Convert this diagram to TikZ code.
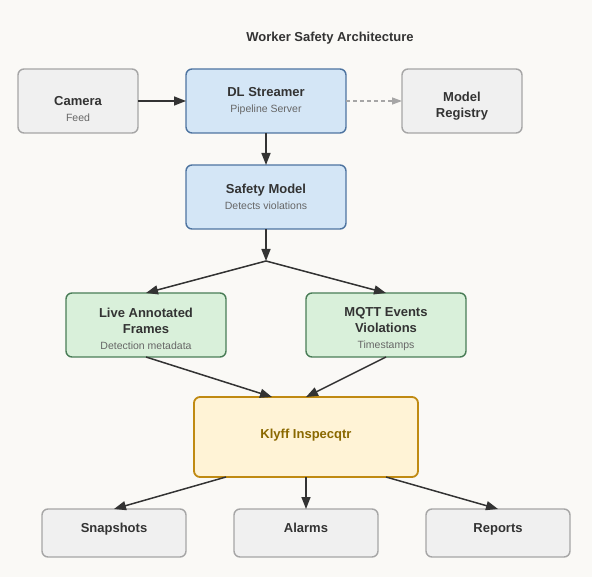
\documentclass[tikz,border=0pt]{standalone}
\usepackage{fontspec}
\setmainfont{Liberation Sans}
\usepackage{xcolor}
\usepackage{tikz}
\usetikzlibrary{positioning, arrows.meta}

\definecolor{bgcol}{HTML}{FAF9F6}
\definecolor{txtdark}{HTML}{333333}
\definecolor{subgray}{HTML}{666666}
\definecolor{wirecol}{HTML}{333333}
\definecolor{grayfill}{HTML}{F0F0F0}
\definecolor{grayline}{HTML}{A6A6A6}
\definecolor{bluefill}{HTML}{D4E6F6}
\definecolor{blueline}{HTML}{4E74A0}
\definecolor{greenfill}{HTML}{D9F0DA}
\definecolor{greenline}{HTML}{4A7D57}
\definecolor{yellowfill}{HTML}{FFF3D6}
\definecolor{yellowline}{HTML}{C08A12}
\definecolor{yellowtxt}{HTML}{8A6800}

\newcommand{\subtxt}[1]{{\fontsize{10.5}{13}\selectfont\mdseries\color{subgray}#1}}

\begin{document}
\begin{tikzpicture}[x=1pt,y=-1pt,>={Triangle[length=12pt,width=9pt]},
    box/.style={draw, rounded corners=6pt, line width=1.4pt, align=center, outer sep=0pt,
        inner sep=0pt, text=txtdark, font=\fontsize{13}{16}\selectfont\bfseries},
    nudge/.style={text height=#1},
    graybox/.style={box, fill=grayfill, draw=grayline, minimum width=120pt, minimum height=64pt},
    bluebox/.style={box, fill=bluefill, draw=blueline, minimum width=160pt, minimum height=64pt},
    greenbox/.style={box, fill=greenfill, draw=greenline, minimum width=160pt, minimum height=64pt,
        nudge=49.5pt},
    yellowbox/.style={box, fill=yellowfill, draw=yellowline, line width=1.8pt, text=yellowtxt,
        minimum width=224pt, minimum height=80pt, text depth=7pt},
    endbox/.style={box, fill=grayfill, draw=grayline, minimum width=144pt, minimum height=48pt,
        text depth=10pt},
    wire/.style={draw=wirecol, line width=1.5pt, ->},
    faint/.style={draw=grayline, line width=1.3pt, dash pattern=on 4pt off 3pt,
        -{Triangle[length=10pt,width=7pt]}}]
    \fill[bgcol] (0,0) rectangle (592,577);
    \useasboundingbox (0,0) rectangle (592,577);

    \node[font=\fontsize{13}{15}\selectfont\bfseries, text=txtdark] (title) at (330,38) {Worker Safety Architecture};

    % top row
    \node[graybox, nudge=41.5pt] (cam) at (78,101) {Camera\\\subtxt{Feed}};
    \node[bluebox, right=48pt of cam] (dls) {DL Streamer\\\subtxt{Pipeline Server}};
    \node[graybox, nudge=35.5pt, right=56pt of dls] (reg) {Model\\Registry};

    \node[bluebox, below=32pt of dls] (safe) {Safety Model\\\subtxt{Detects violations}};
    \coordinate[below=32pt of safe] (split);

    % outputs
    \node[greenbox] (live) at (146,325) {Live Annotated\\Frames\\\subtxt{Detection metadata}};
    \node[greenbox] (mqtt) at (386,325) {MQTT Events\\Violations\\\subtxt{Timestamps}};

    \node[yellowbox] (klyff) at (306,437) {Klyff Inspecqtr};

    \node[endbox] (snap) at (114,533) {Snapshots};
    \node[endbox, right=48pt of snap] (alarm) {Alarms};
    \node[endbox, right=48pt of alarm] (rep) {Reports};

    \path (cam) edge[wire] (dls)
          (dls) edge[faint] (reg)
          (dls) edge[wire] (safe)
          (safe) edge[wire] (split)
          (split) edge[wire] (live.north)
          (split) edge[wire] (mqtt.north)
          (live.south) edge[wire] ([xshift=-34pt]klyff.north)
          (mqtt.south) edge[wire] (klyff.north)
          ([xshift=-80pt]klyff.south) edge[wire] (snap.north)
          (klyff.south) edge[wire] (alarm.north)
          ([xshift=80pt]klyff.south) edge[wire] (rep.north);
\end{tikzpicture}
\end{document}
